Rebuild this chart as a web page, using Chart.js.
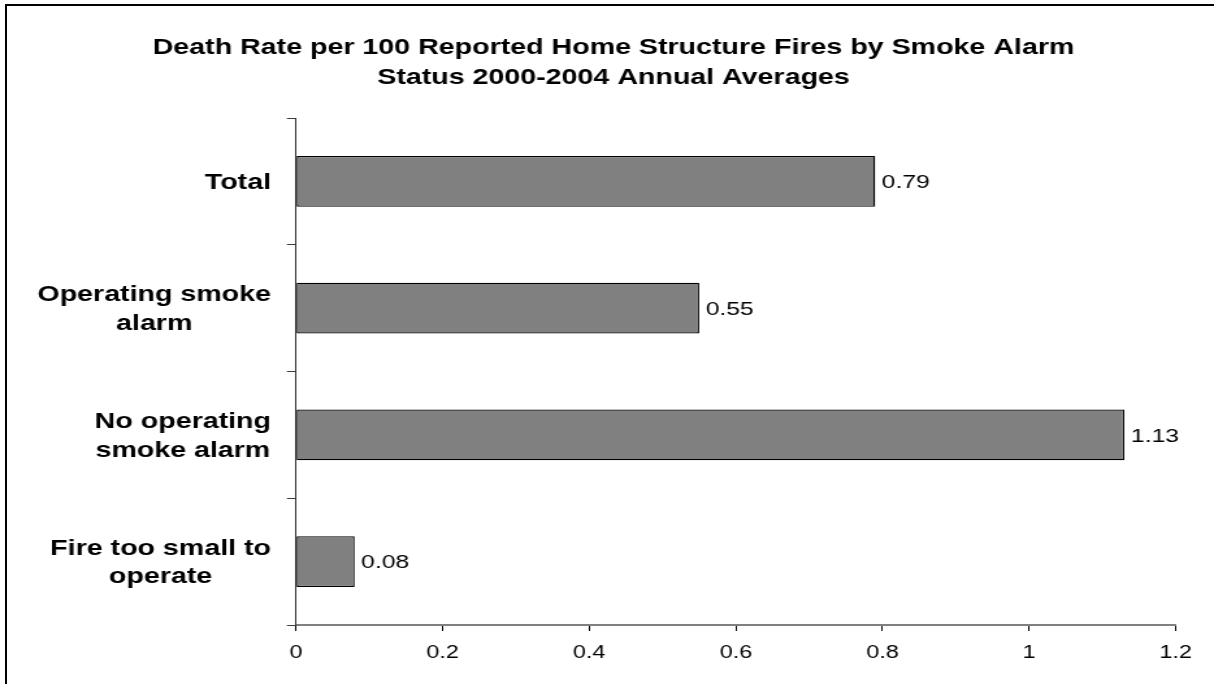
<!DOCTYPE html>
<html>
<head>
<meta charset="utf-8">
<script src="https://cdn.jsdelivr.net/npm/chart.js@4/dist/chart.umd.min.js"></script>
<style>
  html, body { margin: 0; padding: 0; background: #fff; overflow: hidden; width: 1214px; height: 684px; }
  #page { position: relative; width: 1214px; height: 684px; overflow: hidden; }
  #frame {
    position: absolute; left: 5px; top: 4px;
    width: 1300px; height: 800px;
    border-left: 2px solid #000; border-top: 2px solid #000;
    box-sizing: border-box;
  }
  #chart { position: absolute; left: 0; top: 0; }
</style>
</head>
<body>
<div id="page">
  <div id="frame"></div>
  <!-- drawn in a narrower coordinate space and widened by CSS for the wide Arial-style lettering -->
  <canvas id="chart" width="944" height="684" style="width:1227px;height:684px"></canvas>
</div>
<script>
// Death rate per 100 reported home structure fires, 2000-2004 annual averages
const categories = [
  ['Total'],
  ['Operating smoke', 'alarm'],
  ['No operating', 'smoke alarm'],
  ['Fire too small to', 'operate']
];
const deathRates = [0.79, 0.55, 1.13, 0.08];
const xTickLabels = ['0', '0.2', '0.4', '0.6', '0.8', '1', '1.2'];
const titleLines = [
  'Death Rate per 100 Reported Home Structure Fires by Smoke Alarm',
  'Status 2000-2004 Annual Averages'
];

const FONT = '"Liberation Sans", Arial, Helvetica, sans-serif';

// centre the title across the whole canvas rather than the padded box
const titleSpan = {
  id: 'titleSpan',
  afterLayout(chart) {
    const t = chart.titleBlock;
    if (t) { t.left = 0; t.right = chart.width; t.width = chart.width; }
  }
};

// value printed just past the end of each bar
const barValueLabels = {
  id: 'barValueLabels',
  afterDatasetsDraw(chart) {
    const ctx = chart.ctx;
    const meta = chart.getDatasetMeta(0);
    ctx.save();
    ctx.font = '19px ' + FONT;
    ctx.fillStyle = '#000';
    ctx.textAlign = 'left';
    ctx.textBaseline = 'middle';
    meta.data.forEach((bar, i) => {
      ctx.fillText(deathRates[i].toFixed(2), bar.x + 5, bar.y + 1.5);
    });
    ctx.restore();
  }
};

// category names: each block right-aligned against the axis, its lines centred on each other
const categoryLabels = {
  id: 'categoryLabels',
  afterDraw(chart) {
    const ctx = chart.ctx;
    const yScale = chart.scales.y;
    const rightEdge = 208.5;
    const lineGap = 28.5;
    ctx.save();
    ctx.font = 'bold 22px ' + FONT;
    ctx.fillStyle = '#000';
    ctx.textAlign = 'center';
    ctx.textBaseline = 'middle';
    categories.forEach((lines, i) => {
      const yc = yScale.getPixelForValue(i) + 1.5;
      const w = Math.max(...lines.map(l => ctx.measureText(l).width));
      const xc = rightEdge - w / 2;
      lines.forEach((line, j) => {
        ctx.fillText(line, xc, yc + (j - (lines.length - 1) / 2) * lineGap);
      });
    });
    ctx.restore();
  }
};

new Chart(document.getElementById('chart'), {
  type: 'bar',
  data: {
    labels: categories.map(c => c.join(' ')),
    datasets: [{
      data: deathRates,
      backgroundColor: '#808080',
      borderColor: '#000',
      borderWidth: 1.3,
      borderSkipped: false,
      barPercentage: 0.8,
      categoryPercentage: 0.5
    }]
  },
  options: {
    indexAxis: 'y',
    responsive: false,
    devicePixelRatio: 1,
    animation: false,
    events: [],
    layout: { padding: { left: 0, right: 39.4, top: 0, bottom: 19 } },
    plugins: {
      legend: { display: false },
      tooltip: { enabled: false },
      title: {
        display: true,
        text: titleLines,
        color: '#000',
        font: { family: FONT, size: 22, weight: 'bold', lineHeight: '30px' },
        padding: { top: 33, bottom: 25 }
      }
    },
    scales: {
      x: {
        min: 0,
        max: 1.2,
        afterFit(scale) { scale.height = 40; },
        ticks: {
          stepSize: 0.2,
          color: '#000',
          padding: 11,
          font: { family: FONT, size: 18 },
          callback: (v, i) => xTickLabels[i]
        },
        grid: {
          drawOnChartArea: false,
          drawTicks: true,
          tickLength: 6,
          color: '#000',
          lineWidth: 1
        },
        border: { color: '#808080', width: 2 }
      },
      y: {
        afterFit(scale) { scale.width = 227.7; },
        ticks: { display: false },
        grid: {
          offset: true,
          drawOnChartArea: false,
          drawTicks: true,
          tickLength: 7,
          color: '#404040',
          lineWidth: 1
        },
        border: { color: '#333', width: 1 }
      }
    }
  },
  plugins: [titleSpan, barValueLabels, categoryLabels]
});
</script>
</body>
</html>
